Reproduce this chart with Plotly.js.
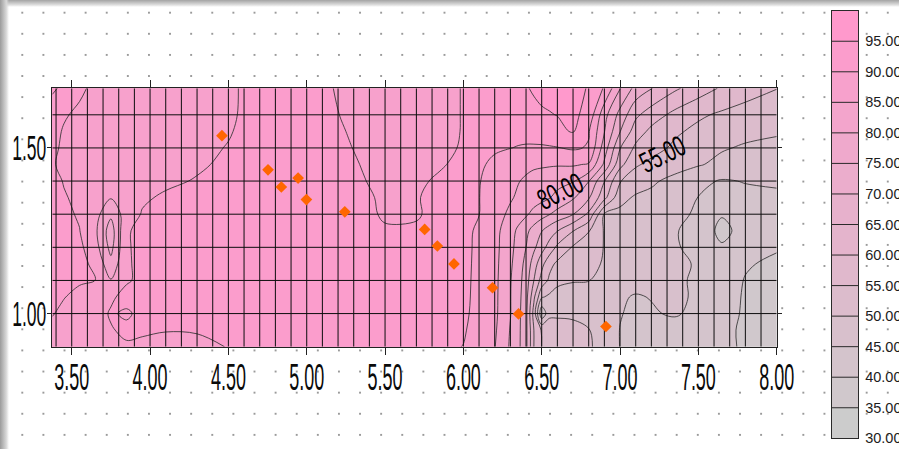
<!DOCTYPE html>
<html>
<head>
<meta charset="utf-8">
<script src="https://cdn.plot.ly/plotly-3.0.1.min.js"></script>
<style>
  html, body { margin: 0; padding: 0; background: #fff; }
  #page {
    position: relative; width: 899px; height: 449px; overflow: hidden;
    background-color: #fff;
    background-image: radial-gradient(circle at 10.56px 10.56px, #9a9a9a 0.75px, rgba(255,255,255,0) 1.2px);
    background-size: 21.12px 21.12px;
    background-position: 11.74px 2.14px;
  }
  #shadeTop { position: absolute; left: 0; top: 0; width: 899px; height: 7px;
    background: linear-gradient(to bottom, #a3a3a3, #dedede 70%, rgba(255,255,255,0)); }
  #shadeLeft { position: absolute; left: 0; top: 0; width: 9px; height: 449px;
    background: linear-gradient(to right, #9b9b9b, #d8d8d8 70%, rgba(255,255,255,0)); }
  #chart { position: absolute; left: 0; top: 0; width: 899px; height: 449px; }
</style>
</head>
<body>
<div id="page">
  <div id="shadeTop"></div>
  <div id="shadeLeft"></div>
  <div id="chart"></div>
</div>
<script>
// Grid nodes of the gridded surface
const xNodes = [3.376, 3.45, 3.55, 3.65, 3.75, 3.85, 3.95, 4.1, 4.3, 4.5, 4.7, 4.9, 5.1, 5.3, 5.5, 5.7, 5.85,
                6.0, 6.1, 6.2, 6.3, 6.35, 6.4, 6.45, 6.5, 6.55, 6.6, 6.7, 6.8, 6.9, 7.0, 7.1, 7.2, 7.35, 7.5, 7.65, 7.8, 8.0];
const yNodes = [0.90, 0.95, 1.00, 1.05, 1.10, 1.15, 1.20, 1.25, 1.30, 1.35, 1.40, 1.45, 1.50, 1.55, 1.60, 1.68];

// Surface values, one row per y node (bottom to top)
const zGrid = [
  [88, 88, 88, 88, 88.3, 89.5, 89.4, 89.2, 89.3, 90.1, 91, 91.3, 91.5, 91.6, 91.6, 91.3, 91,
   89.9, 87.6, 85.2, 79.4, 76.2, 71.3, 60, 54.9, 54.1, 53.4, 52, 50.6, 48.1, 44.9, 44.3, 43.7, 42.7, 41.7, 40.7, 39.6, 38.5],
  [88.6, 88.4, 88.3, 88.6, 89.7, 90.8, 90.4, 90.1, 90.2, 91, 91.6, 91.8, 92, 92.2, 92.1, 92, 91.6,
   90.5, 88, 85.7, 79.7, 76.3, 71.3, 60, 54.5, 53.8, 53.1, 51.8, 50.2, 47.6, 44.9, 44.3, 43.6, 42.6, 41.6, 40.6, 39.6, 38.3],
  [90.3, 88.8, 88.2, 88.3, 90.4, 89.5, 90.9, 91.2, 91.6, 92, 92.2, 92.4, 92.5, 92.6, 92.4, 92.2, 91.7,
   91, 88.3, 86.1, 80.2, 76.4, 71.5, 58, 41, 48.5, 48.8, 48.9, 48.5, 47.3, 45.2, 44.2, 44.5, 45.6, 43.5, 41.2, 39.6, 38.1],
  [91, 90.2, 88.6, 88.2, 89.4, 91.2, 91, 91.3, 92, 92.2, 92.4, 92.6, 92.7, 92.7, 92.5, 92.3, 91.8,
   91.2, 88.5, 86.2, 80.2, 76.7, 71.9, 61, 50.5, 49, 48.7, 48.6, 48.3, 47.5, 45.6, 44.6, 45.2, 46.3, 44, 41.7, 39.6, 38.3],
  [92, 91.3, 90.6, 90.1, 85.3, 89.6, 90.8, 91.6, 92.2, 92.4, 92.5, 92.7, 92.8, 92.8, 92.5, 92.2, 91.8,
   91.3, 88.6, 86.3, 80.3, 77, 72.5, 65, 58, 54, 50.8, 50.2, 50.1, 48.5, 47.3, 46.8, 46.6, 46.1, 44, 42, 39.8, 38.6],
  [92.1, 91.8, 91.3, 89, 81.5, 89.5, 91, 91.8, 92.3, 92.5, 92.6, 92.8, 92.8, 92.8, 92.4, 92, 91.7,
   91.4, 88.7, 86.4, 80.8, 77.5, 73.5, 67.5, 61.5, 56.5, 54, 52.5, 51.5, 49.5, 48.3, 47.8, 47.4, 46.8, 44.2, 42.2, 40.4, 39.2],
  [92, 91.5, 91, 87, 78.5, 89.6, 91, 91.9, 92.3, 92.5, 92.6, 92.8, 92.9, 92.8, 91.8, 91.5, 91.6,
   91.5, 88.8, 86.5, 81.4, 78.2, 75, 71, 67, 63, 59, 54.5, 52.5, 49.8, 48.8, 48.2, 47.6, 45.5, 43.5, 40.6, 41.2, 40.4],
  [91.8, 91.2, 90.1, 86, 77.5, 89.6, 91, 91.8, 92.2, 92.4, 92.6, 92.8, 92.9, 92.6, 90.6, 90.7, 91.6,
   91.6, 89, 86.6, 82, 79, 76.2, 73.1, 70.2, 67.5, 65.2, 60.2, 55.3, 49.6, 48.8, 48.3, 47.6, 45.3, 43.5, 38.5, 42, 41.6],
  [91.6, 90.8, 89.6, 86.8, 81, 87.5, 90.3, 91.5, 92, 92.3, 92.5, 92.7, 92.8, 92.3, 89.3, 89.5, 91.6,
   91.8, 90.1, 87.1, 84, 82.3, 80.7, 78.5, 76.9, 75.2, 73.3, 70.2, 64, 49.6, 48.9, 48.5, 48, 46.4, 44.2, 40.4, 42.6, 42.9],
  [91.5, 90.3, 89.2, 88, 85.3, 88, 89.4, 90.6, 91.4, 92, 92.4, 92.6, 92.6, 91.6, 89.2, 89.7, 91.4,
   92, 90.1, 87.8, 85.5, 84.3, 83.2, 82.2, 81.3, 80.2, 78.8, 75.6, 70.6, 61.5, 51.4, 49.4, 48.8, 47.3, 44.9, 43.6, 43.9, 44.2],
  [91.2, 89.8, 88.6, 88.3, 87.8, 88.2, 88.6, 89.2, 90.3, 91.5, 92.2, 92.5, 92.4, 91, 88.5, 89.3, 90.6,
   92.1, 90.2, 88.3, 86.2, 85.2, 84.4, 83.5, 82.8, 82, 81.4, 80.4, 75.2, 65.2, 55.3, 52.4, 50.8, 48.5, 46.2, 44.6, 45.2, 45.6],
  [90.4, 89, 88.5, 88.3, 88.2, 88.2, 88.4, 88.8, 89.4, 90.8, 92, 92.4, 92.2, 90.4, 88.3, 88.6, 89.6,
   91, 90.6, 89.2, 86.8, 86.3, 86, 85.7, 85.6, 85.5, 85.4, 85.5, 84.6, 74, 61.5, 55.6, 53.8, 52.1, 50.4, 48.8, 47.8, 47.3],
  [91, 89.2, 88.5, 88.2, 88, 88, 88.2, 88.5, 89, 90.2, 91.8, 92.3, 92, 89.9, 88.2, 88.5, 89.2,
   90.3, 91.3, 90.5, 90.1, 89.7, 89.4, 89.3, 89.3, 89.5, 89.8, 90.6, 89.6, 77.5, 65.2, 59, 56.8, 54.1, 52.2, 50.4, 49.5, 48.9],
  [91.8, 89.5, 88.5, 88.2, 88, 88, 88, 88, 88.6, 89.7, 91.7, 92.2, 91.8, 89.4, 88, 88.3, 88.8,
   90.2, 91.8, 91.9, 91.7, 91.8, 92, 92.4, 92.8, 93.3, 93.9, 95.4, 90.4, 80.2, 70.2, 62.5, 58.8, 55.8, 53.8, 52.3, 51.2, 50.5],
  [93, 90.6, 88.8, 88.2, 88, 88, 88, 88, 88.5, 89.4, 91.5, 92, 91.3, 88.9, 88, 88.3, 88.7,
   90.2, 92, 93.2, 93.5, 93.8, 94, 94.3, 94.6, 94.8, 95.1, 96, 93.5, 81.7, 73.3, 66, 62.5, 58.6, 55.8, 54.2, 53, 52.3],
  [95.6, 94.2, 91.2, 88.5, 88, 88, 88, 88, 88.5, 89.3, 91.5, 92, 90.8, 88.5, 88, 88.3, 88.7,
   90.2, 92, 93, 93.8, 94.3, 94.8, 95.3, 95.8, 96.2, 96.5, 96.8, 94.6, 89.5, 80.2, 73.3, 70.2, 65.8, 62.5, 59.4, 57.2, 55.1]
];

// Sample points
const pointX = [4.459, 4.753, 4.838, 4.945, 4.998, 5.243, 5.753, 5.834, 5.940, 6.186, 6.352, 6.910];
const pointY = [1.537, 1.434, 1.382, 1.409, 1.344, 1.307, 1.254, 1.204, 1.150, 1.078, 0.999, 0.961];

// Contour levels shown on the colour bar
const levels = [30, 35, 40, 45, 50, 55, 60, 65, 70, 75, 80, 85, 90, 95];
const levelTop = 100;

// Labelled contours
const labelValues = [80, 55];
const labelSpots = [[6.62, 1.369], [7.272, 1.483]];

const lowColor = 'rgb(204,204,204)';
const highColor = 'rgb(255,153,204)';
const scale = [[0, lowColor], [1, highColor]];
const step = levels[1] - levels[0];
const xRange = [xNodes[0], xNodes[xNodes.length - 1]];
const yRange = [yNodes[0], yNodes[yNodes.length - 1]];

const surface = {
  type: 'contour', x: xNodes, y: yNodes, z: zGrid,
  autocontour: false,
  contours: { start: levels[1], end: levels[levels.length - 1], size: step, coloring: 'fill', showlines: true },
  line: { color: '#333333', width: 0.85, smoothing: 1 },
  colorscale: scale, showscale: false, hoverinfo: 'skip'
};

// 0.1 mesh drawn over the filled surface
const gx = [], gy = [];
for (let k = Math.floor(xRange[0] * 10) + 1; k < Math.round(xRange[1] * 10); k++) {
  gx.push(k / 10, k / 10, null); gy.push(yRange[0], yRange[1], null);
}
for (let k = Math.round(yRange[0] * 10) + 1; k <= Math.floor(yRange[1] * 10); k++) {
  gx.push(xRange[0], xRange[1], null); gy.push(k / 10, k / 10, null);
}
const mesh = {
  type: 'scatter', mode: 'lines', x: gx, y: gy,
  line: { color: '#0d0d0d', width: 1 }, hoverinfo: 'skip', showlegend: false
};

const points = {
  type: 'scatter', mode: 'markers', x: pointX, y: pointY,
  marker: { symbol: 'diamond', size: 9, color: '#ff6600', line: { width: 0 } },
  hoverinfo: 'skip', showlegend: false
};

// Colour bar built as a one-column heatmap on its own axes
const bandMid = levels.map(v => v + step / 2);
const bar = {
  type: 'heatmap', x: [0], y: bandMid, z: bandMid.map(v => [v]),
  colorscale: scale, zmin: bandMid[0], zmax: bandMid[bandMid.length - 1],
  showscale: false, hoverinfo: 'skip', xaxis: 'x2', yaxis: 'y2'
};
const sx = [], sy = [];
levels.slice(1).forEach(v => { sx.push(-0.5, 0.5, null); sy.push(v, v, null); });
const barLines = {
  type: 'scatter', mode: 'lines', x: sx, y: sy, xaxis: 'x2', yaxis: 'y2',
  line: { color: '#2a2a2a', width: 1 }, hoverinfo: 'skip', showlegend: false
};

const W = 899, H = 449;
const tallFont = "'Liberation Sans Narrow', 'Liberation Sans', Arial, sans-serif";

const annotations = labelValues.map((v, i) => ({
  x: labelSpots[i][0], y: labelSpots[i][1], xref: 'x', yref: 'y',
  text: v.toFixed(2), showarrow: false, textangle: -26,
  font: { family: tallFont, size: 29, color: '#000' },
  xanchor: 'center', yanchor: 'middle'
}));

const layout = {
  width: W, height: H,
  margin: { l: 0, r: 0, t: 0, b: 0 },
  paper_bgcolor: 'rgba(0,0,0,0)', plot_bgcolor: 'rgba(0,0,0,0)',
  showlegend: false,
  xaxis: {
    domain: [52.3 / W, 776.7 / W], range: xRange, anchor: 'y',
    tickmode: 'linear', tick0: 3.5, dtick: 0.5, tickformat: '.2f',
    ticks: 'outside', ticklen: 7, tickwidth: 1, tickcolor: '#222',
    showline: true, mirror: 'ticks', linecolor: '#222', linewidth: 1,
    showgrid: false, zeroline: false, ticklabelstandoff: -8,
    tickfont: { family: tallFont, size: 36, color: '#0a0a0a' }
  },
  yaxis: {
    domain: [1 - 346.7 / H, 1 - 88.3 / H], range: yRange, anchor: 'x',
    tickmode: 'linear', tick0: 1.0, dtick: 0.5, tickformat: '.2f',
    ticks: 'outside', ticklen: 4, tickwidth: 1, tickcolor: '#222',
    showline: true, mirror: 'ticks', linecolor: '#222', linewidth: 1,
    showgrid: false, zeroline: false, ticklabelstandoff: -6,
    tickfont: { family: tallFont, size: 35, color: '#0a0a0a' }
  },
  xaxis2: {
    domain: [831.7 / W, 858.3 / W], range: [-0.5, 0.5], anchor: 'y2',
    showticklabels: false, ticks: '', showgrid: false, zeroline: false,
    showline: true, mirror: true, linecolor: '#2a2a2a', linewidth: 1
  },
  yaxis2: {
    domain: [1 - 438.3 / H, 1 - 10.7 / H], range: [levels[0], levelTop], anchor: 'x2', side: 'right',
    tickmode: 'array', tickvals: levels, tickformat: '.2f', ticks: '',
    showgrid: false, zeroline: false,
    showline: true, mirror: true, linecolor: '#2a2a2a', linewidth: 1,
    ticklabelstandoff: 3,
    tickfont: { family: "'Liberation Sans', Arial, sans-serif", size: 14.5, color: '#1c1c1c' }
  },
  annotations: annotations
};

// Narrow the tall numerals horizontally, keeping their anchor point fixed
function squeeze(el, s, keepRight) {
  const t = el.getAttribute('transform') || '';
  if (t.indexOf('scale(') !== -1) return;
  const b = el.getBBox();
  const cx = keepRight ? b.x + b.width : b.x + b.width / 2;
  el.setAttribute('transform', (t + ' translate(' + cx + ',0) scale(' + s + ',1) translate(' + (-cx) + ',0)').trim());
}
function squeezeLabels(gd) {
  const xs = gd.querySelectorAll('g.xtick text');
  const ys = gd.querySelectorAll('g.ytick text');
  if (xs.length) {
    const w = xs[0].getBBox().width;
    if (w) {
      const s = 35 / w;
      xs.forEach(el => squeeze(el, s, false));
      ys.forEach(el => squeeze(el, s, true));
    }
  }
  gd.querySelectorAll('g.annotation-text-g text').forEach(el => {
    const w = el.getBBox().width;
    if (w) squeeze(el, 47 / w, false);
  });
}

const gd = document.getElementById('chart');
Plotly.newPlot(gd, [surface, mesh, points, bar, barLines], layout, { displayModeBar: false, staticPlot: true })
  .then(() => {
    squeezeLabels(gd);
    gd.on('plotly_afterplot', () => squeezeLabels(gd));
  });
</script>
</body>
</html>
